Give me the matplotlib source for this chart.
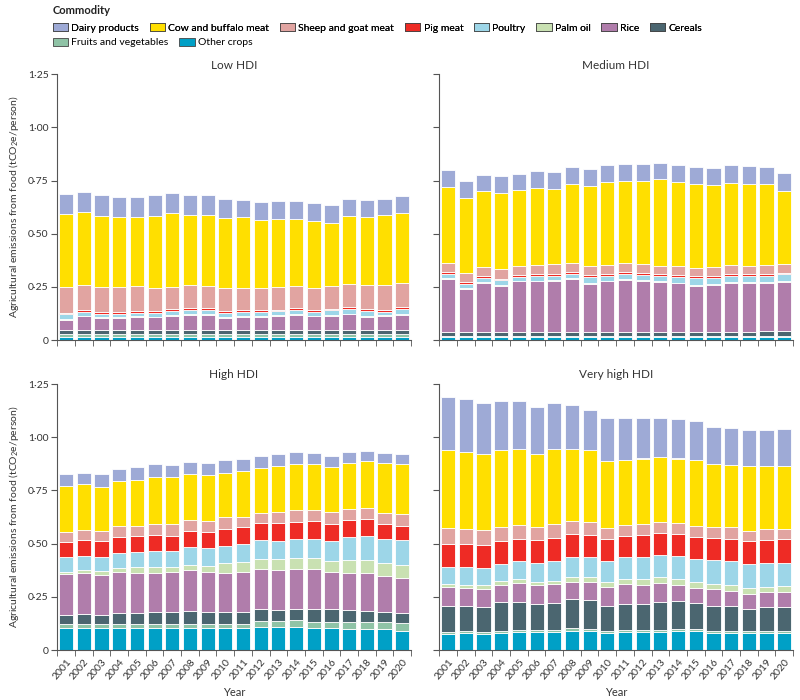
import numpy as np
import matplotlib
matplotlib.use('Agg')
import matplotlib.pyplot as plt
from matplotlib.patches import Patch
from matplotlib.ticker import FixedLocator, FuncFormatter

plt.rcParams['font.family'] = ['Lato', 'DejaVu Sans']
plt.rcParams['mathtext.fontset'] = 'custom'
plt.rcParams['mathtext.rm'] = 'Lato'
plt.rcParams['mathtext.it'] = 'Lato:italic'

years = np.arange(2001, 2021)

commodities = ['Dairy products', 'Cow and buffalo meat', 'Sheep and goat meat', 'Pig meat',
               'Poultry', 'Palm oil', 'Rice', 'Cereals', 'Fruits and vegetables', 'Other crops']
colours = ['#9eaad6', '#ffdf00', '#e1a4a1', '#ee2b25', '#9dd6e8', '#c9e1b2',
           '#b07dab', '#4b6670', '#8fc3a6', '#00a0c6']

panel_titles = ['Low HDI', 'Medium HDI', 'High HDI', 'Very high HDI']

# rows follow the commodities list (top of stack first), columns are 2001-2020
low_hdi = np.array([
    [.094, .096, .097, .096, .096, .095, .093, .094, .095, .090, .083, .083, .087, .087, .085, .082, .079, .077, .077, .077],
    [.342, .342, .335, .327, .321, .340, .347, .332, .330, .327, .330, .319, .319, .314, .312, .298, .321, .322, .328, .331],
    [.122, .117, .118, .118, .118, .110, .105, .105, .104, .110, .105, .105, .105, .104, .106, .106, .108, .112, .116, .111],
    [.008, .009, .008, .008, .008, .008, .009, .009, .009, .008, .008, .008, .008, .008, .008, .008, .009, .009, .009, .009],
    [.021, .019, .017, .017, .017, .017, .019, .022, .023, .022, .021, .019, .019, .020, .018, .021, .022, .023, .017, .025],
    [.003, .003, .003, .003, .003, .003, .003, .003, .003, .003, .003, .003, .003, .003, .003, .003, .003, .003, .003, .003],
    [.049, .064, .056, .056, .062, .059, .067, .070, .069, .056, .062, .064, .067, .072, .065, .069, .075, .064, .067, .072],
    [.017, .017, .017, .017, .017, .017, .018, .018, .018, .017, .017, .016, .016, .016, .016, .016, .016, .016, .016, .017],
    [.017, .017, .017, .017, .017, .017, .017, .017, .017, .017, .017, .017, .017, .017, .017, .017, .017, .017, .017, .017],
    [.014, .014, .014, .014, .014, .014, .014, .014, .014, .014, .014, .014, .014, .014, .014, .014, .014, .014, .014, .014],
])

medium_hdi = np.array([
    [.084, .082, .078, .078, .079, .080, .080, .080, .079, .080, .078, .078, .077, .080, .080, .080, .082, .082, .082, .083],
    [.353, .353, .356, .359, .354, .359, .351, .370, .377, .393, .389, .393, .406, .395, .393, .387, .389, .385, .382, .343],
    [.046, .043, .044, .044, .044, .045, .045, .041, .043, .039, .040, .042, .040, .040, .039, .042, .040, .039, .041, .042],
    [.009, .008, .008, .008, .009, .009, .009, .009, .009, .009, .009, .009, .009, .008, .009, .009, .008, .008, .008, .008],
    [.020, .020, .018, .022, .017, .021, .021, .023, .027, .024, .026, .023, .025, .028, .031, .026, .032, .032, .031, .031],
    [.004, .004, .004, .004, .004, .004, .004, .004, .004, .004, .004, .004, .004, .004, .004, .004, .004, .004, .004, .004],
    [.248, .202, .232, .217, .238, .238, .241, .248, .228, .238, .244, .241, .234, .228, .217, .222, .228, .228, .227, .232],
    [.018, .018, .018, .018, .018, .018, .018, .018, .018, .018, .018, .018, .018, .019, .019, .019, .019, .019, .020, .022],
    [.004, .004, .004, .004, .004, .004, .004, .004, .004, .004, .004, .004, .004, .004, .004, .004, .004, .004, .004, .004],
    [.016, .016, .016, .016, .016, .016, .016, .016, .016, .016, .016, .016, .016, .016, .016, .016, .017, .017, .017, .017],
])

high_hdi = np.array([
    [.058, .056, .059, .060, .060, .061, .059, .058, .058, .058, .055, .056, .055, .055, .053, .051, .051, .050, .049, .048],
    [.215, .215, .208, .211, .216, .220, .220, .215, .216, .211, .219, .211, .216, .219, .216, .211, .214, .219, .234, .235],
    [.049, .047, .047, .050, .048, .052, .054, .051, .052, .052, .047, .050, .051, .054, .053, .057, .053, .053, .055, .056],
    [.072, .073, .074, .075, .077, .077, .072, .075, .075, .080, .078, .080, .085, .082, .085, .081, .081, .081, .067, .069],
    [.067, .067, .069, .071, .072, .073, .076, .085, .085, .084, .086, .089, .087, .088, .089, .094, .108, .111, .116, .116],
    [.013, .016, .018, .020, .025, .027, .024, .025, .028, .043, .044, .047, .050, .052, .050, .050, .063, .063, .060, .061],
    [.191, .192, .185, .192, .188, .186, .187, .191, .187, .185, .189, .188, .187, .186, .190, .177, .172, .175, .167, .163],
    [.041, .045, .043, .051, .052, .054, .056, .060, .056, .056, .056, .053, .051, .054, .059, .058, .056, .053, .046, .047],
    [.020, .020, .020, .020, .020, .020, .020, .020, .020, .020, .020, .028, .028, .030, .030, .030, .035, .035, .037, .040],
    [.103, .103, .103, .103, .103, .103, .103, .103, .103, .103, .103, .110, .110, .110, .103, .103, .097, .097, .097, .088],
])

very_high_hdi = np.array([
    [.250, .250, .240, .230, .225, .220, .215, .205, .190, .200, .195, .190, .185, .185, .180, .175, .175, .170, .170, .175],
    [.367, .362, .357, .364, .358, .344, .353, .338, .340, .316, .308, .308, .305, .303, .310, .296, .294, .305, .297, .297],
    [.075, .070, .068, .063, .063, .060, .065, .062, .059, .054, .052, .052, .052, .054, .052, .052, .052, .050, .052, .048],
    [.107, .108, .109, .108, .105, .109, .109, .107, .106, .102, .100, .105, .102, .100, .104, .104, .105, .106, .109, .110],
    [.081, .083, .082, .083, .086, .087, .093, .094, .091, .097, .102, .102, .105, .109, .110, .113, .115, .114, .109, .109],
    [.016, .016, .019, .018, .020, .015, .015, .023, .026, .024, .023, .028, .028, .029, .029, .025, .027, .027, .027, .027],
    [.086, .083, .082, .080, .086, .089, .088, .082, .085, .091, .094, .089, .089, .073, .071, .076, .068, .071, .068, .074],
    [.122, .119, .119, .135, .133, .122, .128, .137, .135, .115, .122, .122, .130, .134, .121, .118, .118, .103, .114, .111],
    [.012, .011, .009, .011, .008, .008, .008, .011, .007, .009, .008, .008, .008, .007, .007, .009, .009, .007, .007, .007],
    [.074, .078, .075, .078, .086, .086, .086, .091, .091, .082, .086, .086, .086, .091, .091, .082, .082, .082, .082, .082],
])

panels = [low_hdi, medium_hdi, high_hdi, very_high_hdi]

fig = plt.figure(figsize=(8, 7), dpi=100)
axes_pos = [[0.07125, 0.514, 0.4425, 0.38], [0.54875, 0.514, 0.4425, 0.38],
            [0.07125, 0.0714, 0.4425, 0.38], [0.54875, 0.0714, 0.4425, 0.38]]

def fmt(v, pos):
    if v == 0:
        return '0'
    return f'{v:.2f}'.replace('.', '\u00b7')

spine_col = '#555555'
text_col = '#333333'
x = np.arange(len(years))
for i, (data, title) in enumerate(zip(panels, panel_titles)):
    ax = fig.add_axes(axes_pos[i])
    bottom = np.zeros(len(years))
    # stack from the bottom: other crops first
    for j in range(len(commodities) - 1, -1, -1):
        ax.bar(x, data[j], width=0.8, bottom=bottom, color=colours[j],
               edgecolor='white', linewidth=0.6)
        bottom = bottom + data[j]

    ax.set_xlim(-0.52, 19.5)
    ax.set_ylim(0, 1.25)
    ax.spines['top'].set_visible(False)
    ax.spines['right'].set_visible(False)
    ax.spines['left'].set_color(spine_col)
    ax.spines['bottom'].set_color(spine_col)
    ax.set_title(title, fontsize=8.5, pad=4, color=text_col)

    ax.yaxis.set_major_locator(FixedLocator([0, 0.25, 0.5, 0.75, 1.0, 1.25]))
    ax.yaxis.set_major_formatter(FuncFormatter(fmt))
    ax.tick_params(axis='y', length=4, color=spine_col, labelsize=7.5, labelcolor=text_col, pad=2)

    ax.set_xticks(x)
    ax.set_xticks(np.arange(-0.5, 20, 1), minor=True)
    ax.tick_params(axis='x', which='major', length=0, pad=5)
    ax.tick_params(axis='x', which='minor', length=4, color=spine_col)

    if i >= 2:
        ax.set_xticklabels([str(y) for y in years], rotation=50, ha='right',
                           rotation_mode='anchor', fontsize=7.5, color=text_col)
        ax.set_xlabel('Year', fontsize=8, color=text_col, labelpad=4)
    else:
        ax.set_xticklabels([])
    if i % 2 == 0:
        ax.set_ylabel('Agricultural emissions from food (tCO$_2$e/person)',
                      fontsize=7.5, color=text_col, labelpad=5)
    else:
        ax.set_yticklabels([])

# legend: bold heading, then two rows of swatches
fig.text(0.066, 1 - 10 / 700, 'Commodity', fontsize=8, fontweight='bold',
         color='#222222', va='center', ha='left')
handles = [Patch(facecolor=c, edgecolor='#444444', linewidth=0.6) for c in colours]
leg1 = fig.legend(handles[:8], commodities[:8], ncol=8, loc='upper left',
                  bbox_to_anchor=(0.058, 0.976), frameon=False, fontsize=7.5,
                  handlelength=1.5, handleheight=0.8, handletextpad=0.3,
                  columnspacing=1.0, borderpad=0.1)
fig.add_artist(leg1)
fig.legend(handles[8:], commodities[8:], ncol=2, loc='upper left',
           bbox_to_anchor=(0.058, 0.955), frameon=False, fontsize=7.5,
           handlelength=1.5, handleheight=0.8, handletextpad=0.3,
           columnspacing=1.0, borderpad=0.1)

fig.savefig('out.png', dpi=100)
